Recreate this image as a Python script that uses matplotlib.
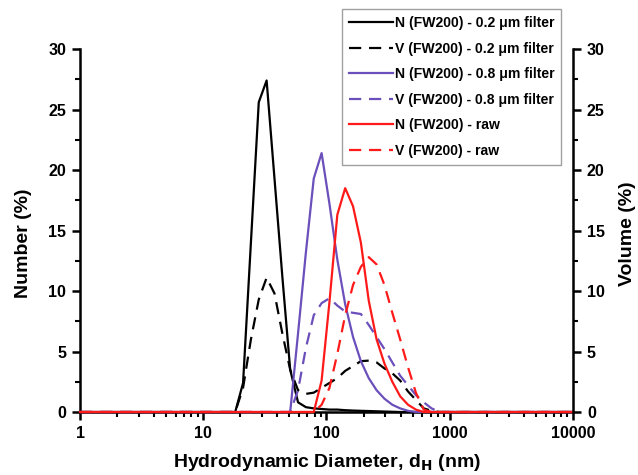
import numpy as np
import matplotlib
matplotlib.use('Agg')
import matplotlib.pyplot as plt
from matplotlib.ticker import MultipleLocator, LogLocator, NullFormatter, FixedLocator

plt.rcParams['font.family'] = ['Liberation Sans', 'DejaVu Sans']
plt.rcParams['font.weight'] = 'bold'
plt.rcParams['mathtext.default'] = 'bf'

# size bins (nm)
sizes = [1, 15.69, 18.17, 21.04, 24.36, 28.21, 32.67, 37.84, 43.82, 50.75, 58.77,
         68.06, 78.82, 91.28, 105.7, 122.4, 141.8, 164.2, 190.1, 220.2, 255.0,
         295.3, 342.0, 396.1, 458.7, 531.2, 615.1, 712.4, 825.0, 955.4, 10000]

# number distributions (%)
n_02 = [0, 0, 0, 2.4, 14.0, 25.6, 27.4, 19.3, 11.2, 3.5, 0.8,
        0.4, 0.3, 0.25, 0.2, 0.2, 0.15, 0.12, 0.1, 0.08, 0.06,
        0.04, 0.02, 0, 0, 0, 0, 0, 0, 0, 0]
n_08 = [0, 0, 0, 0, 0, 0, 0, 0, 0, 0, 6.5,
        13.2, 19.3, 21.4, 17.2, 12.6, 8.9, 6.2, 4.2, 2.8, 1.8,
        1.1, 0.6, 0.3, 0.1, 0, 0, 0, 0, 0, 0]
n_raw = [0, 0, 0, 0, 0, 0, 0, 0, 0, 0, 0,
         0, 0, 2.6, 9.1, 16.3, 18.5, 17.0, 14.0, 9.2, 6.0,
         4.0, 2.5, 1.3, 0.6, 0.2, 0, 0, 0, 0, 0]

# volume distributions (%) - right axis, same 0-30 scale
v_02 = [0, 0, 0, 2.0, 6.0, 9.3, 11.1, 9.8, 6.5, 3.5, 1.8,
        1.5, 1.6, 2.0, 2.4, 2.8, 3.4, 3.8, 4.2, 4.25, 4.1,
        3.6, 3.2, 2.6, 1.7, 1.0, 0.3, 0.1, 0, 0, 0]
v_08 = [0, 0, 0, 0, 0, 0, 0, 0, 0, 0, 1.8,
        5.3, 8.0, 9.0, 9.4, 8.8, 8.3, 8.2, 8.1, 7.2, 6.2,
        5.2, 4.1, 3.0, 2.2, 1.4, 0.8, 0.3, 0, 0, 0]
v_raw = [0, 0, 0, 0, 0, 0, 0, 0, 0, 0, 0,
         0, 0, 0.6, 2.0, 4.8, 8.0, 10.5, 12.0, 12.8, 12.2,
         10.5, 8.2, 6.0, 3.7, 1.6, 0.2, 0, 0, 0, 0]

labels = ['N (FW200) - 0.2 μm filter', 'V (FW200) - 0.2 μm filter',
          'N (FW200) - 0.8 μm filter', 'V (FW200) - 0.8 μm filter',
          'N (FW200) - raw', 'V (FW200) - raw']

black = 'black'
purple = '#6b4fbb'
red = '#ff1a1a'

fig = plt.figure(figsize=(6.38, 4.75), dpi=100)
ax = fig.add_axes([0.1254, 0.1326, 0.7727, 0.7642])
ax2 = ax.twinx()

lw = 1.6
dash = (0, (5.5, 3.5))
# all drawn on ax (both axes span 0-30), above the spines
series = [(n_02, black, '-'), (v_02, black, dash),
          (n_08, purple, '-'), (v_08, purple, dash),
          (n_raw, red, '-'), (v_raw, red, dash)]
handles = []
for vals, c, ls in series:
    h, = ax.plot(sizes, vals, color=c, lw=lw, ls=ls, zorder=3, clip_on=False)
    handles.append(h)

for a in (ax, ax2):
    a.set_xscale('log')
    a.set_xlim(1, 10000)
    a.set_ylim(0, 30)
    a.yaxis.set_major_locator(MultipleLocator(5))
    a.yaxis.set_minor_locator(MultipleLocator(2.5))
    a.spines['top'].set_visible(False)
    for s in ('left', 'right', 'bottom'):
        a.spines[s].set_linewidth(1.8)
    a.tick_params(which='major', direction='out', length=6, width=1.8,
                  labelsize=11.5, pad=4)
    a.tick_params(which='minor', direction='out', length=3.5, width=1.5)
ax.spines['right'].set_visible(False)
ax2.spines['left'].set_visible(False)
ax2.spines['bottom'].set_visible(False)

ax.xaxis.set_major_locator(FixedLocator([1, 10, 100, 1000, 10000]))
ax.set_xticklabels(['1', '10', '100', '1000', '10000'])
ax.xaxis.set_minor_locator(LogLocator(base=10, subs=np.arange(2, 10)))
ax.xaxis.set_minor_formatter(NullFormatter())

ax.set_ylabel('Number (%)', fontsize=14, fontweight='bold')
ax.yaxis.set_label_coords(-0.097, 0.466)
ax2.set_ylabel('Volume (%)', fontsize=14, fontweight='bold')
ax2.yaxis.set_label_coords(1.093, 0.49)
ax.set_xlabel(r'Hydrodynamic Diameter, d$_\mathbf{H}$ (nm)', fontsize=14,
              fontweight='bold')
ax.xaxis.set_label_coords(0.5, -0.14)
ax.xaxis.label.set_va('center')

leg = fig.legend(handles, labels, loc='upper left',
                 bbox_to_anchor=(342 / 638, 1 - 9 / 475), fontsize=10.1,
                 frameon=True, fancybox=False, edgecolor='#888888',
                 handlelength=3.1, handletextpad=0.15, labelspacing=0.82,
                 borderpad=0.5, borderaxespad=0)
leg.get_frame().set_linewidth(1.0)

fig.savefig('out.png', dpi=100)
